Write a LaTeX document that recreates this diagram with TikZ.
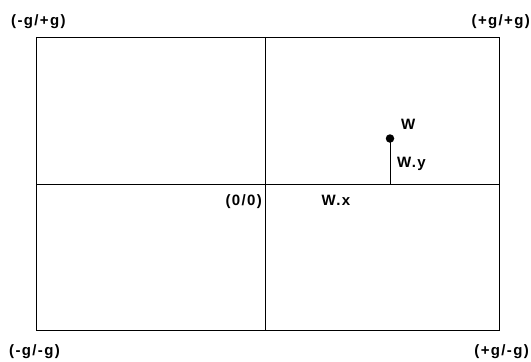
\documentclass[tikz,border=0pt]{standalone}
\usepackage{fontspec}
\setmainfont{Liberation Sans}[LetterSpace=9]
\begin{document}
\begin{tikzpicture}[x=1pt,y=-1pt,
  lbl/.style={font=\bfseries\fontsize{15}{17}\selectfont, inner sep=0pt},
  frame/.style={draw=black, line width=1pt}]
\useasboundingbox (0,0) rectangle (531,362);
\coordinate (tl) at (36,37);
\coordinate (br) at (499,330);
\draw[frame] (tl) rectangle (br);
\coordinate (vt) at (265,37);
\coordinate (vb) at (265,330);
\coordinate (hl) at (36,184);
\coordinate (hr) at (499,184);
\draw[frame] (vt) -- (vb);
\draw[frame] (hl) -- (hr);
\coordinate (wb) at (390,184);
\node[circle, fill=black, inner sep=0pt, minimum size=8.5pt] (w) at (390,138.5) {};
\draw[frame] (w.center) -- (wb);
\node[lbl, anchor=base west] (wl) at (401,129) {W};
\node[lbl, anchor=base west] (wy) at (397,167) {W.y};
\node[lbl, anchor=base] (wx) at (336,205) {W.x};
\node[lbl, anchor=base east] (o) at (262,205) {(0/0)};
\node[lbl, anchor=base west] (a) at (11,25) {(-g/+g)};
\node[lbl, anchor=base east] (b) at (530,25) {(+g/+g)};
\node[lbl, anchor=base west] (c) at (9,355) {(-g/-g)};
\node[lbl, anchor=base east] (d) at (529,355) {(+g/-g)};
\end{tikzpicture}
\end{document}
